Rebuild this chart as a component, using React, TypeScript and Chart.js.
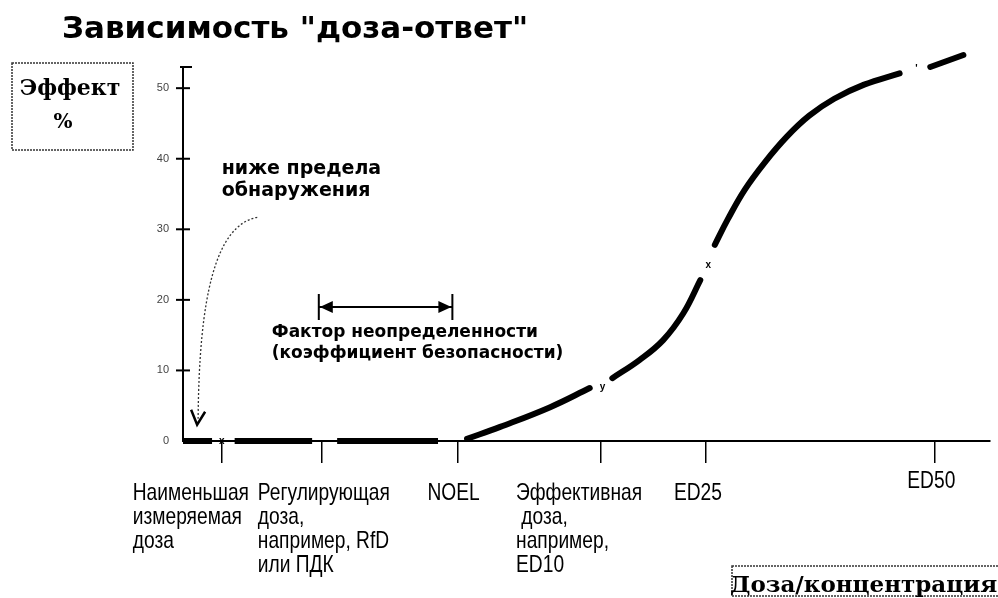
import React, { useEffect, useRef } from "react";
import { Chart, registerables } from "chart.js";

Chart.register(...registerables);

// ---- data ----
const effectTicks = [0, 10, 20, 30, 40, 50];
const doseTicks = [4.8, 17.2, 34.0, 51.8, 64.8, 93.1];
const doseLabels = [
  ["Наименьшая", "измеряемая", "доза"],
  ["Регулирующая", "доза,", "например, RfD", "или ПДК"],
  ["NOEL"],
  ["Эффективная", " доза,", "например,", "ED10"],
  ["ED25"],
  ["ED50"],
];
// dose-response curve (null = small gap in the drawn curve)
const curveDose = [35.2, 39.3, 45.5, 50.4, 51.8, 53.2, 56.6, 59.5, 62.0, 64.1, 65.0, 65.9, 67.5, 69.6, 72.1, 74.8, 77.6, 80.7, 84.4, 88.8, 90.4, 92.6, 96.7];
const curveEffect = [0.3, 2.0, 4.8, 7.5, null, 8.9, 11.5, 14.3, 18.1, 22.8, null, 27.8, 31.4, 35.6, 39.5, 43.1, 46.1, 48.5, 50.5, 52.1, null, 53.0, 54.7];
// thick segments on the baseline (below detection)
const baselineDose = [0, 3.6, 5.0, 6.4, 16.0, 17.5, 19.1, 31.6];
const baselineEffect = [0, 0, null, 0, 0, null, 0, 0];
// small marks on the curve
const markDose = [4.8, 52.0, 65.1, 90.9];
const markEffect = [0, 7.6, 24.9, 52.7];
const markText = ["x", "y", "x", "'"];

const titleText = 'Зависимость "доза-ответ"';
const yTitleLines = ["Эффект", "%"];
const xTitleText = "Доза/концентрация";
const belowDetection = ["ниже предела", "обнаружения"];
const uncertaintyText = ["Фактор неопределенности", "(коэффициент безопасности)"];

// ---- layout (positions, not data) ----
const labelDx = [-89, -64, -30, -85, -32, -27];
const labelBase = [500, 500, 500, 500, 500, 488];
const SANS = '"Liberation Sans", Arial, sans-serif';
const BOLD_SANS = '"DejaVu Sans", sans-serif';
const BOLD_SERIF = '"DejaVu Serif", serif';

const annotations = {
  id: "doseAnnotations",
  beforeDraw(chart: any) {
    const { ctx, width, height } = chart;
    ctx.save();
    ctx.fillStyle = "#fff";
    ctx.fillRect(0, 0, width, height);
    ctx.restore();
  },
  afterDraw(chart: any) {
    const ctx = chart.ctx;
    const xs = chart.scales.x;
    const ys = chart.scales.y;
    const ca = chart.chartArea;
    const X = (v: number) => xs.getPixelForValue(v);
    const Y = (v: number) => ys.getPixelForValue(v);
    ctx.save();
    ctx.strokeStyle = "#000";
    ctx.fillStyle = "#000";

    // y tick crosses
    ctx.lineWidth = 2;
    effectTicks.forEach((v) => {
      if (v === 0) return;
      const y = Y(v);
      ctx.beginPath();
      ctx.moveTo(ca.left - 7, y);
      ctx.lineTo(ca.left + 7, y);
      ctx.stroke();
    });
    ctx.beginPath();
    ctx.moveTo(ca.left - 3, ca.top);
    ctx.lineTo(ca.left + 9, ca.top);
    ctx.stroke();

    // title
    ctx.font = `bold 31px ${BOLD_SANS}`;
    ctx.textAlign = "left";
    ctx.textBaseline = "alphabetic";
    ctx.fillText(titleText, 62, 38);

    // y title box
    ctx.save();
    ctx.setLineDash([2, 1]);
    ctx.lineWidth = 1.5;
    ctx.strokeStyle = "#333";
    ctx.strokeRect(12, 63, 121, 87);
    ctx.restore();
    ctx.font = `bold 22px ${BOLD_SERIF}`;
    ctx.textAlign = "center";
    ctx.fillText(yTitleLines[0], 70, 95);
    ctx.font = `bold 20px ${BOLD_SERIF}`;
    ctx.fillText(yTitleLines[1], 63, 128);

    // x title box
    ctx.save();
    ctx.setLineDash([2, 1]);
    ctx.lineWidth = 1.5;
    ctx.strokeStyle = "#333";
    ctx.strokeRect(732, 566, 280, 30);
    ctx.restore();
    ctx.font = `bold 23px ${BOLD_SERIF}`;
    ctx.textAlign = "left";
    ctx.fillText(xTitleText, 730, 592);

    // x tick labels (tall look)
    ctx.font = `20px ${SANS}`;
    ctx.textAlign = "left";
    doseLabels.forEach((lines, i) => {
      const x0 = X(doseTicks[i]) + labelDx[i];
      lines.forEach((t, j) => {
        ctx.save();
        ctx.translate(x0, labelBase[i] + j * 24);
        ctx.scale(0.96, 1.18);
        ctx.fillText(t, 0, 0);
        ctx.restore();
      });
    });

    // below detection text
    ctx.font = `bold 19px ${BOLD_SANS}`;
    const bx = X(doseTicks[0]);
    ctx.fillText(belowDetection[0], bx, Y(37.8));
    ctx.fillText(belowDetection[1], bx, Y(37.8) + 22);

    // dotted curved arrow
    const sx = X(9.2), sy = Y(31.7);
    const tx = X(1.75), ty = Y(2.3);
    ctx.save();
    ctx.setLineDash([2, 2]);
    ctx.lineWidth = 1.3;
    ctx.strokeStyle = "#333";
    ctx.beginPath();
    ctx.moveTo(sx, sy);
    ctx.bezierCurveTo(sx - 42, sy + 8, tx + 2, sy + 80, tx + 1, ty - 6);
    ctx.stroke();
    ctx.restore();
    ctx.lineWidth = 2.5;
    ctx.beginPath();
    ctx.moveTo(tx - 6, ty - 15);
    ctx.lineTo(tx, ty);
    ctx.lineTo(tx + 8, ty - 13);
    ctx.stroke();

    // uncertainty double arrow
    const ax1 = X(doseTicks[1]) - 3;
    const ax2 = X(doseTicks[2]) - 5;
    const ay = Y(19);
    ctx.lineWidth = 2;
    ctx.beginPath();
    ctx.moveTo(ax1, ay - 13); ctx.lineTo(ax1, ay + 13);
    ctx.moveTo(ax2, ay - 13); ctx.lineTo(ax2, ay + 13);
    ctx.moveTo(ax1, ay); ctx.lineTo(ax2, ay);
    ctx.stroke();
    ctx.beginPath();
    ctx.moveTo(ax1 + 1, ay); ctx.lineTo(ax1 + 14, ay - 6); ctx.lineTo(ax1 + 14, ay + 6); ctx.closePath();
    ctx.moveTo(ax2 - 1, ay); ctx.lineTo(ax2 - 14, ay - 6); ctx.lineTo(ax2 - 14, ay + 6); ctx.closePath();
    ctx.fill();

    ctx.font = `bold 17px ${BOLD_SANS}`;
    ctx.textAlign = "left";
    const ux = X(11.0);
    ctx.fillText(uncertaintyText[0], ux, Y(14.7));
    ctx.fillText(uncertaintyText[1], ux, Y(14.7) + 21);

    // small marks
    ctx.font = `bold 10px ${SANS}`;
    ctx.textAlign = "center";
    ctx.textBaseline = "middle";
    markDose.forEach((d, i) => ctx.fillText(markText[i], X(d), Y(markEffect[i])));

    ctx.restore();
  },
};

export default function App() {
  const ref = useRef<HTMLCanvasElement | null>(null);
  useEffect(() => {
    if (!ref.current) return;
    const chart = new Chart(ref.current, {
      type: "line",
      data: {
        datasets: [
          {
            label: "Эффект",
            data: curveDose.map((x, i) => ({ x, y: curveEffect[i] })) as any,
            borderColor: "#000",
            borderWidth: 6,
            pointRadius: 0,
            tension: 0.4,
            spanGaps: false,
            clip: false as any,
            borderCapStyle: "round",
          },
          {
            label: "Ниже предела обнаружения",
            data: baselineDose.map((x, i) => ({ x, y: baselineEffect[i] })) as any,
            borderColor: "#000",
            borderWidth: 6,
            pointRadius: 0,
            tension: 0,
            spanGaps: false,
            clip: false as any,
          },
        ],
      },
      options: {
        responsive: false,
        animation: false,
        layout: { padding: { left: 0, top: 67, right: 8, bottom: 0 } },
        plugins: {
          legend: { display: false },
          tooltip: { enabled: false },
          title: { display: false },
        },
        scales: {
          x: {
            type: "linear",
            min: 0,
            max: 100,
            afterBuildTicks: (s: any) => {
              s.ticks = doseTicks.map((v) => ({ value: v }));
            },
            afterFit: (s: any) => {
              s.height = 157;
            },
            ticks: { display: false },
            grid: { drawOnChartArea: false, drawTicks: true, tickLength: 22, color: "#000", lineWidth: 1.5 },
            border: { display: true, color: "#000", width: 2 },
          },
          y: {
            type: "linear",
            min: 0,
            max: 53,
            afterBuildTicks: (s: any) => {
              s.ticks = effectTicks.map((v) => ({ value: v }));
            },
            afterFit: (s: any) => {
              s.width = 183;
            },
            ticks: { font: { size: 11, family: SANS }, color: "#444", padding: 14 },
            grid: { drawOnChartArea: false, drawTicks: false },
            border: { display: true, color: "#000", width: 2 },
          },
        },
      },
      plugins: [annotations],
    });
    return () => chart.destroy();
  }, []);
  return (
    <div style={{ position: "fixed", left: 0, top: 0, width: 998, height: 598, background: "#fff" }}>
      <canvas ref={ref} width={998} height={598} style={{ display: "block", width: 998, height: 598 }} />
    </div>
  );
}
